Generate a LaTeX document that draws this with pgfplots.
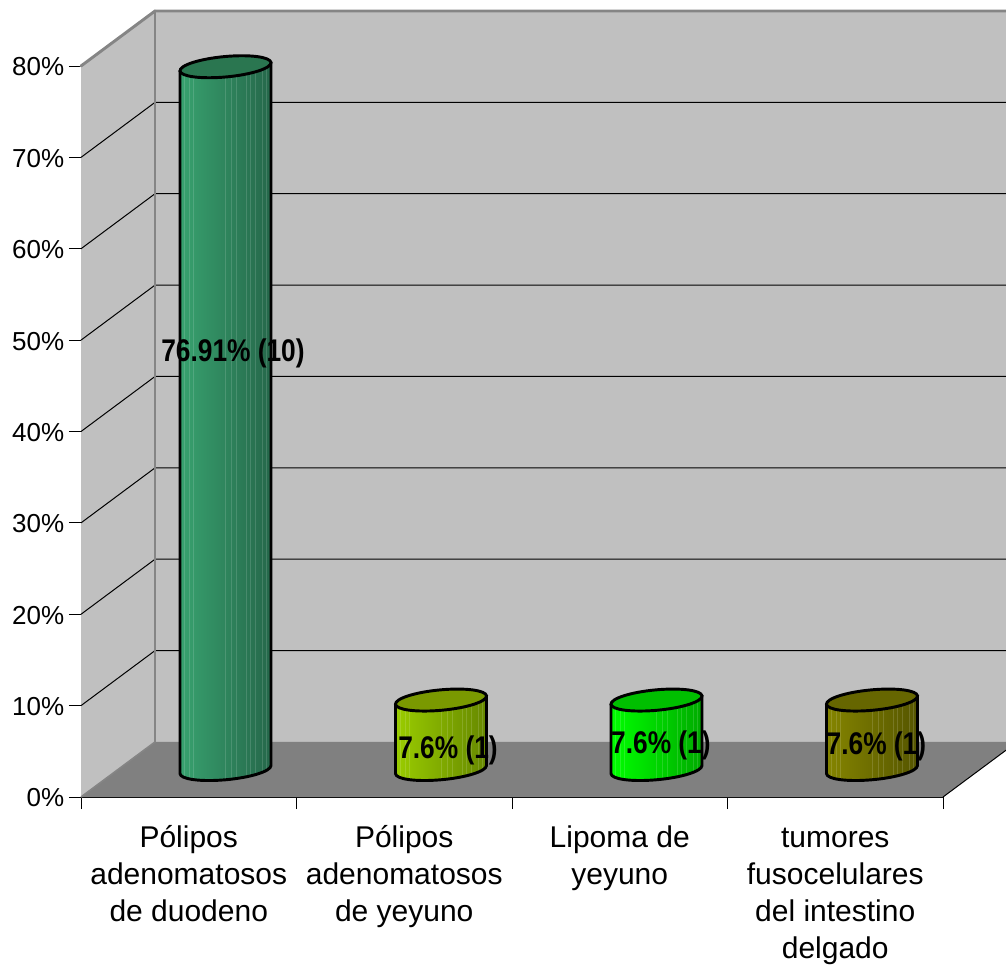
\documentclass[border=0pt]{standalone}
\usepackage{fontspec}
\setmainfont{Liberation Sans}
\usepackage{graphicx}
\usepackage{pgfplots}
\pgfplotsset{compat=1.18}

% Cylinder drawn at each data point; one unit here is one drawing unit of 0.75pt.
\pgfdeclareplotmark{emptymark}{}
\newcommand{\cylpath}{(-45.5,-4) -- (-45.5,{-4-\cylh})
  \pgfextra{\pgfpatharcaxes{201.26}{381.26}{\pgfqpoint{31.8pt}{0pt}}{\pgfqpoint{12.375pt}{8.25pt}}}
  -- (45.5,4) -- cycle}
\newcommand{\cylinder}[3]{%
  \begin{scope}[x=0.75pt,y=0.75pt]
    \pgftransformshift{\pgfqpoint{27.56pt}{20.62pt}}% half the depth of the floor
    \pgfkeys{/pgf/fpu=false}%
    \pgfmathsetmacro{\cylh}{\cylval*9.1375}%
    \begin{scope}
      \clip \cylpath;
      \shade[left color=#1,right color=#2] (-46,4) rectangle (46,{-\cylh-16});
      \foreach \s in {-41,-36,-32,0,6,11,21,25,30,37,41}
        \draw[white,opacity=0.14,line width=0.6pt] (\s,8) -- (\s,{-\cylh-16});
    \end{scope}
    \draw[black,line width=2.2pt,line join=round] \cylpath;
    \filldraw[black,line width=2.2pt,fill=#3] \pgfextra{\pgfpathellipse{\pgfpointorigin}{\pgfqpoint{31.8pt}{0pt}}{\pgfqpoint{12.375pt}{8.25pt}}};
  \end{scope}}
\pgfplotsset{
  cylinder bar/.style n args={3}{
    scatter, only marks, mark=emptymark,
    point meta min=0, point meta max=100,
    visualization depends on={value \thisrow{y} \as \cylval},
    scatter/@pre marker code/.code={\cylinder{#1}{#2}{#3}},
    scatter/@post marker code/.code={},
  },
  wall/.style={draw=none,fill=wallgray,forget plot},
  edge/.style={draw=edgegray,line width=2.2pt,line cap=round},
  grid part/.style={draw=black,line width=0.75pt},
}
\definecolor{wallgray}{HTML}{C0C0C0}
\definecolor{floorgray}{HTML}{808080}
\definecolor{edgegray}{HTML}{858585}
\definecolor{aL}{HTML}{38A26F}\definecolor{aR}{HTML}{25674A}\definecolor{aT}{HTML}{2A7650}
\definecolor{bL}{HTML}{9ACD00}\definecolor{bR}{HTML}{668800}\definecolor{bT}{HTML}{7A9900}
\definecolor{cL}{HTML}{00FF00}\definecolor{cR}{HTML}{00AA00}\definecolor{cT}{HTML}{00BF00}
\definecolor{dL}{HTML}{858500}\definecolor{dR}{HTML}{555500}\definecolor{dT}{HTML}{666600}

\newcommand{\barlabel}[1]{\scalebox{0.84}[1]{\fontsize{23.5}{25}\selectfont\bfseries #1}}
\newcommand{\firstline}{\rule{0pt}{18pt}}

\begin{document}
\begin{tikzpicture}
\path[use as bounding box] (0,0) rectangle (754.5pt,723pt);
\begin{axis}[
  at={(60.75pt,125.25pt)}, anchor=south west,
  scale only axis, width=646.5pt, height=548.25pt,
  clip=false,
  xmin=0, xmax=4, ymin=0, ymax=80,
  axis x line*=bottom, axis y line*=left,
  axis line style={black,line width=0.75pt},
  tick align=outside, major tick length=9pt,
  tick style={black,line width=0.75pt},
  xtick={0,1,2,3,4},
  x tick label as interval,
  xticklabels={{\firstline Pólipos\\adenomatosos\\de duodeno},{\firstline Pólipos\\adenomatosos\\de yeyuno},{\firstline Lipoma de\\yeyuno},{\firstline tumores\\fusocelulares\\del intestino\\delgado}},
  x tick label style={align=center,font=\fontsize{22.5}{27.7}\selectfont,anchor=north,yshift=-7.2pt},
  ytick={0,10,20,30,40,50,60,70,80},
  yticklabel={\pgfmathprintnumber{\tick}\%},
  y tick label style={font=\fontsize{19.5}{22}\selectfont,/pgf/number format/assume math mode=true,yshift=-0.75pt},
]
% side wall, back wall and floor
\addplot[wall] coordinates {(0,0) (0,80) (0.3434,86.02) (0.3434,6.02)} -- cycle;
\addplot[wall] coordinates {(0.3434,6.02) (0.3434,86.02) (4.2923,86.02) (4.2923,6.02)} -- cycle;
\addplot[draw=none,fill=floorgray,forget plot] coordinates {(0,0) (4,0) (4.2923,5.12) (4.2923,6.02) (0.3434,6.02)} -- cycle;
% gridlines: diagonal on the side wall, horizontal on the back wall
\addplot[grid part] coordinates {(0,10) (0.3434,16.02) (4.2923,16.02)};
\addplot[grid part] coordinates {(0,20) (0.3434,26.02) (4.2923,26.02)};
\addplot[grid part] coordinates {(0,30) (0.3434,36.02) (4.2923,36.02)};
\addplot[grid part] coordinates {(0,40) (0.3434,46.02) (4.2923,46.02)};
\addplot[grid part] coordinates {(0,50) (0.3434,56.02) (4.2923,56.02)};
\addplot[grid part] coordinates {(0,60) (0.3434,66.02) (4.2923,66.02)};
\addplot[grid part] coordinates {(0,70) (0.3434,76.02) (4.2923,76.02)};
% wall edges
\addplot[edge] coordinates {(0,80) (0.3434,86.02) (4.2923,86.02)};
\addplot[edge] coordinates {(0.3434,86.02) (0.3434,6.02)};
\addplot[draw=edgegray,line width=1.2pt] coordinates {(0,0) (0.3434,6.02)};
\addplot[draw=black,line width=0.75pt] coordinates {(4,0) (4.2923,5.12)};
% bars
\addplot[cylinder bar={aL}{aR}{aT}] table[x=x,y=y] {
x y
0.5 76.91
};
\addplot[cylinder bar={bL}{bR}{bT}] table[x=x,y=y] {
x y
1.5 7.6
};
\addplot[cylinder bar={cL}{cR}{cT}] table[x=x,y=y] {
x y
2.5 7.6
};
\addplot[cylinder bar={dL}{dR}{dT}] table[x=x,y=y] {
x y
3.5 7.6
};
% anchor points for the value labels
\coordinate (la) at (axis cs:0.7053,48.6);
\coordinate (lb) at (axis cs:1.703,5.1);
\coordinate (lc) at (axis cs:2.691,5.65);
\coordinate (ld) at (axis cs:3.691,5.55);
\end{axis}
% value labels, set over the bars
\node at (la) {\barlabel{76.91\% (10)}};
\node at (lb) {\barlabel{7.6\% (1)}};
\node at (lc) {\barlabel{7.6\% (1)}};
\node at (ld) {\barlabel{7.6\% (1)}};
\end{tikzpicture}
\end{document}
